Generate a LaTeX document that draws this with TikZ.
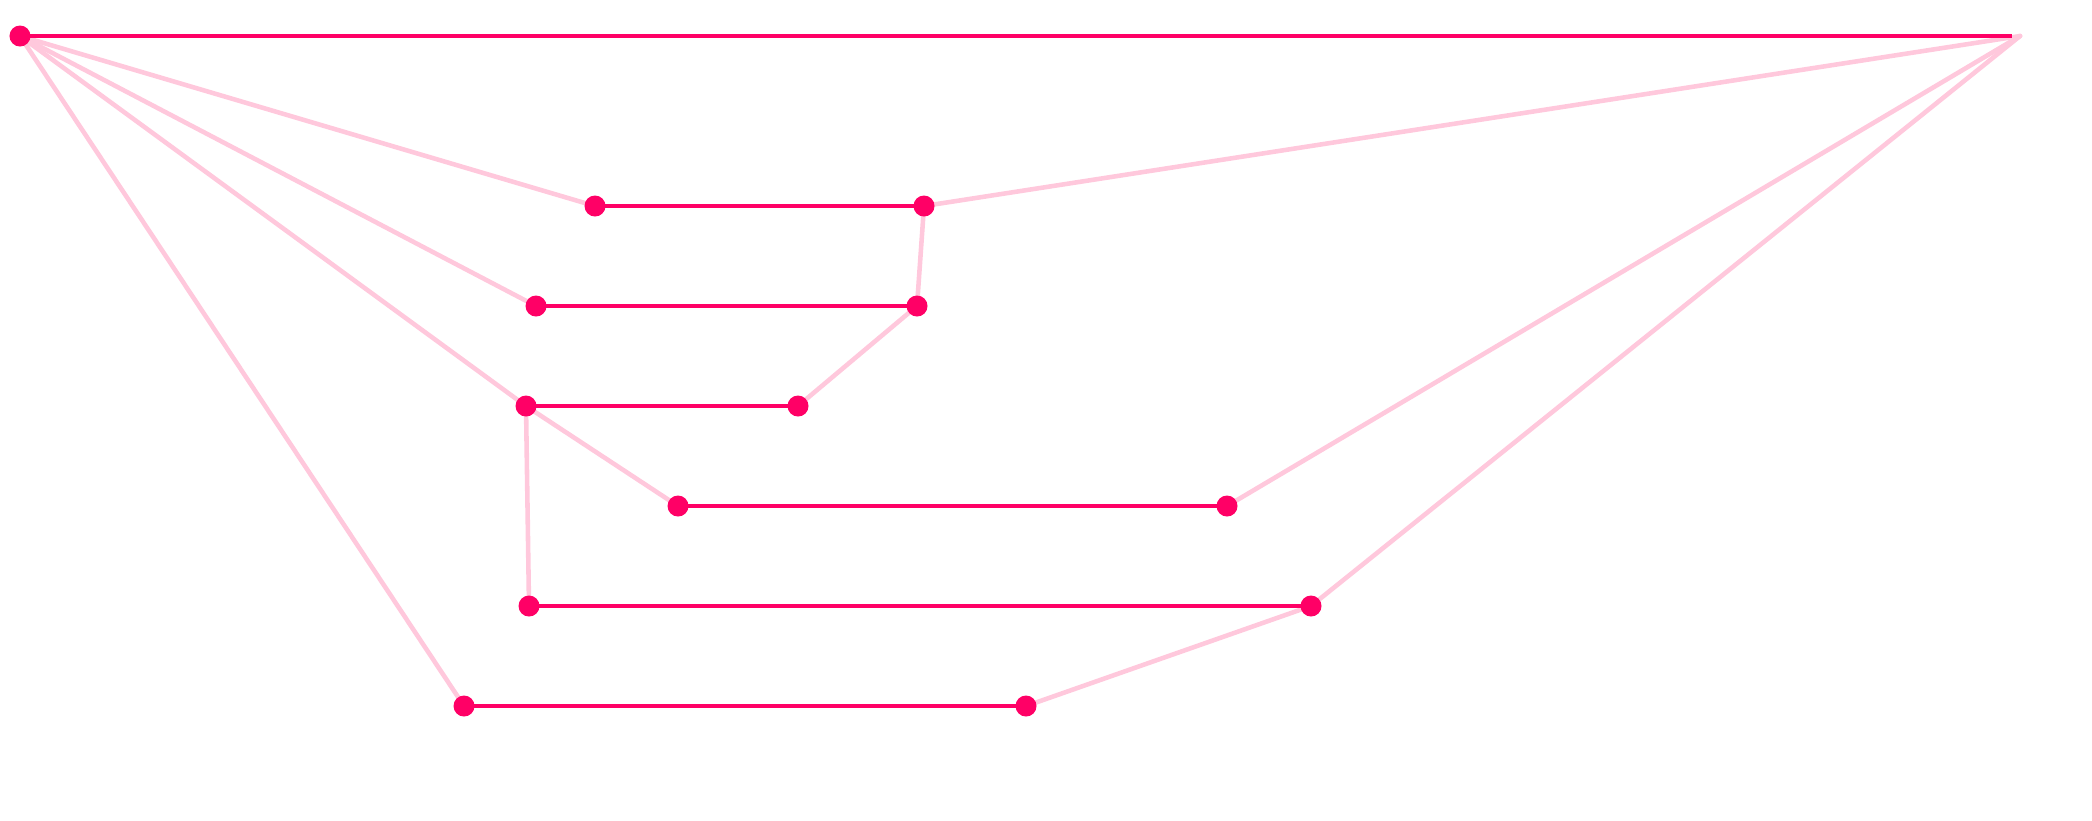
\documentclass[tikz,border=0pt]{standalone}
\usepackage{tikz}
\usetikzlibrary{positioning}
\definecolor{hotpink}{RGB}{255,0,102}
\definecolor{palepink}{RGB}{255,200,220}
\tikzset{
	dot/.style={circle, fill=hotpink, inner sep=0pt, minimum size=0.21cm},
	span/.style={hotpink, line width=1.4pt},
	link/.style={palepink, line width=1.3pt},
}

\begin{document}
\begin{tikzpicture}[x=0.01cm, y=-0.01cm]
	
	% ------------------------------------------------
	% Ensure the dimensions of graphic are appropriate
	\useasboundingbox (0,0) rectangle (2092,820);
	
	% ------------------------------------------------
	% Relevant coordinates
	\coordinate (Beg) at (20,36);
	\coordinate (End) at (2020,36);
	
	\coordinate (B1) at (595,206);
	\path (B1) +(329,0) coordinate (B2);
	\coordinate (C1) at (536,306);
	\path (C1) +(381,0) coordinate (C2);
	\coordinate (D1) at (526,406);
	\path (D1) +(272,0) coordinate (D2);
	\coordinate (E1) at (678,506);
	\path (E1) +(549,0) coordinate (E2);
	\coordinate (F1) at (529,606);
	\path (F1) +(782,0) coordinate (F2);
	\coordinate (G1) at (464,706);
	\path (G1) +(562,0) coordinate (G2);
	
	% ----------------
	% Pale links
	\draw[link] (Beg) -- (B1);
	\draw[link] (Beg) -- (C1);
	\draw[link] (Beg) -- (D1);
	\draw[link] (Beg) -- (G1);
	\draw[link, line cap=round] (B2) -- (End);
	\draw[link, line cap=round] (E2) -- (End);
	\draw[link, line cap=round] (F2) -- (End);
	\draw[link] (B2) -- (C2) -- (D2);
	\draw[link] (D1) -- (E1);
	\draw[link] (D1) -- (F1);
	\draw[link] (F2) -- (G2);
	
	% ----------------
	% Spans
	\draw[span, shorten >=0.08cm] (Beg) -- (End);
	\foreach \row in {B,C,D,E,F,G}
		\draw[span] (\row1) -- (\row2);
	
	% ----------------
	% Dotted vertices
	\node[dot] (BegDot) at (Beg) {};
	\foreach \row in {B,C,D,E,F,G} {
		\node[dot] (\row1Dot) at (\row1) {};
		\node[dot] (\row2Dot) at (\row2) {};
	}
	
\end{tikzpicture}
\end{document}
